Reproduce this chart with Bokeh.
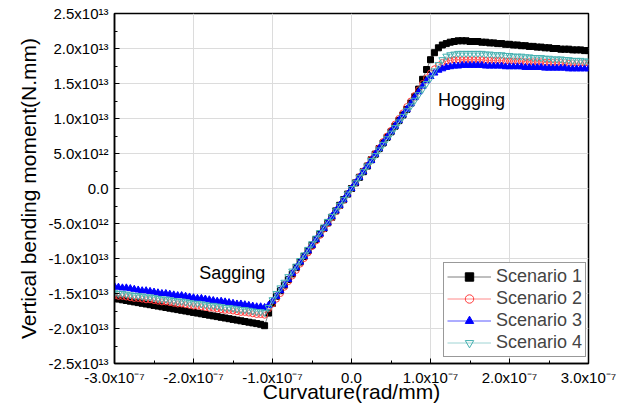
from bokeh.plotting import figure
from bokeh.models import Range1d, FixedTicker, Legend, LegendItem, Label
from bokeh.embed import file_html
from bokeh.resources import INLINE

# curvature in units of 1e-9 rad/mm
curvature = [-300, -295, -290, -285, -280, -275, -270, -265, -260, -255,
             -250, -245, -240, -235, -230, -225, -220, -215, -210, -205,
             -200, -195, -190, -185, -180, -175, -170, -165, -160, -155,
             -150, -145, -140, -135, -130, -125, -120, -115, -110, -105,
             -100, -95, -90, -85, -80, -75, -70, -65, -60, -55,
             -50, -45, -40, -35, -30, -25, -20, -15, -10, -5,
             0, 5, 10, 15, 20, 25, 30, 35, 40, 45,
             50, 55, 60, 65, 70, 75, 80, 85, 90, 95,
             100, 105, 110, 115, 120, 125, 130, 135, 140, 145,
             150, 155, 160, 165, 170, 175, 180, 185, 190, 195,
             200, 205, 210, 215, 220, 225, 230, 235, 240, 245,
             250, 255, 260, 265, 270, 275, 280, 285, 290, 295, 300]

# vertical bending moment in units of 1e11 N.mm
scenario1 = [-157, -158, -159, -160, -161, -162, -163, -164, -165, -166,
             -167, -168, -169, -170, -171, -172, -173, -174, -175, -176,
             -177, -178, -179, -180, -181, -182, -183, -184, -185, -186,
             -187, -188, -189, -190, -191, -192, -193, -194, -196,
             -178, -164,
             -154, -146, -138, -130, -122, -113, -105, -97, -89, -81,
             -73, -65, -57, -49, -41, -32, -24, -16, -8,
             0,
             8, 16, 24, 32, 41, 49, 57, 65, 73, 81,
             89, 97, 105, 113, 122, 131, 142, 156,
             170, 184, 194, 201, 205, 207, 209, 210, 211, 211, 211,
             210, 210, 210, 209, 209, 208, 208, 207, 207, 206,
             206, 205, 205, 204, 204, 203, 203, 202, 202, 201,
             201, 200, 200, 199, 199, 199, 198, 198, 198, 197, 197]

scenario2 = [-153, -154, -154, -155, -156, -157, -157, -158, -159, -159,
             -160, -161, -162, -162, -163, -164, -165, -165, -166, -167,
             -168, -168, -169, -170, -171, -171, -172, -173, -174, -174,
             -175, -176, -177, -177, -178, -179, -180, -180, -181,
             -172, -165,
             -158, -150, -141, -133, -125, -117, -108, -100, -92, -83,
             -75, -67, -58, -50, -42, -33, -25, -17, -8,
             0,
             8, 17, 25, 33, 42, 50, 58, 67, 75, 83,
             92, 100, 108, 117, 125, 133, 141, 150, 158,
             165, 171, 176, 180, 182, 183, 184, 184, 184, 184, 184, 184, 184,
             184, 183, 183, 183, 183, 183, 182, 182, 182, 182,
             182, 181, 181, 181, 181, 181, 180, 180, 180, 180,
             180, 180, 179, 179, 179, 179, 179, 179]

scenario3 = [-140, -141, -142, -142, -143, -144, -145, -146, -146, -147,
             -148, -149, -150, -150, -151, -152, -153, -153, -154, -155,
             -156, -157, -157, -158, -159, -160, -161, -161, -162, -163,
             -164, -165, -165, -166, -167, -168, -169, -169, -170,
             -167, -161,
             -154, -146, -138, -130, -121, -113, -105, -97, -89, -81,
             -73, -65, -57, -49, -40, -32, -24, -16, -8,
             0,
             8, 16, 24, 32, 40, 49, 57, 65, 73, 81,
             89, 97, 105, 113, 121, 130, 138, 146, 154,
             160, 165, 169, 171, 173, 174, 175, 175, 176, 176, 176, 176, 176,
             176, 175, 175, 175, 175, 175, 174, 174, 174, 174,
             174, 173, 173, 173, 173, 173, 172, 172, 172, 172,
             172, 172, 171, 171, 171, 171, 171, 171]

scenario4 = [-149, -150, -150, -151, -152, -153, -153, -154, -155, -155,
             -156, -157, -158, -158, -159, -160, -161, -161, -162, -163,
             -164, -164, -165, -166, -167, -167, -168, -169, -170, -170,
             -171, -172, -173, -173, -174, -175, -176, -176, -177,
             -170, -159,
             -150, -142, -134, -126, -118, -111, -103, -95, -87, -79,
             -71, -63, -55, -47, -40, -32, -24, -16, -8,
             0,
             8, 16, 24, 32, 40, 47, 55, 63, 71, 79,
             87, 95, 103, 111, 118, 126, 134, 142, 150,
             158, 168, 177, 184, 189, 191, 192, 193, 193, 193, 193, 193, 193,
             193, 192, 192, 191, 191, 191, 190, 190, 189, 189,
             189, 188, 188, 187, 187, 187, 186, 186, 185, 185,
             185, 184, 184, 183, 183, 183, 182, 182]

series_names = ["Scenario 1", "Scenario 2", "Scenario 3", "Scenario 4"]

x_ticks = [-300, -200, -100, 0, 100, 200, 300]
x_minor = [-250, -150, -50, 50, 150, 250]
x_tick_labels = ["-3.0x10\u207b\u2077", "-2.0x10\u207b\u2077", "-1.0x10\u207b\u2077", "0.0",
                 "1.0x10\u207b\u2077", "2.0x10\u207b\u2077", "3.0x10\u207b\u2077"]
y_ticks = [-250, -200, -150, -100, -50, 0, 50, 100, 150, 200, 250]
y_minor = [-225, -175, -125, -75, -25, 25, 75, 125, 175, 225]
y_tick_labels = ["-2.5x10\u00b9\u00b3", "-2.0x10\u00b9\u00b3", "-1.5x10\u00b9\u00b3", "-1.0x10\u00b9\u00b3",
                 "-5.0x10\u00b9\u00b2", "0.0", "5.0x10\u00b9\u00b2", "1.0x10\u00b9\u00b3",
                 "1.5x10\u00b9\u00b3", "2.0x10\u00b9\u00b3", "2.5x10\u00b9\u00b3"]

FONT = "Liberation Sans"

p = figure(width=621, height=412, x_range=Range1d(-300, 300), y_range=Range1d(-250, 250),
           output_backend="svg", toolbar_location=None,
           min_border_left=114, min_border_right=33, min_border_top=13, min_border_bottom=49)
p.background_fill_color = "white"
p.border_fill_color = "white"
p.outline_line_color = "black"
p.outline_line_width = 1.5

p.xaxis.ticker = FixedTicker(ticks=x_ticks, minor_ticks=x_minor)
p.yaxis.ticker = FixedTicker(ticks=y_ticks, minor_ticks=y_minor)
p.xaxis.major_label_overrides = dict(zip(x_ticks, x_tick_labels))
p.yaxis.major_label_overrides = dict(zip(y_ticks, y_tick_labels))

for ax in (p.xaxis[0], p.yaxis[0]):
    ax.axis_line_color = "black"
    ax.axis_line_width = 1.5
    ax.major_tick_in = 5
    ax.major_tick_out = 0
    ax.minor_tick_in = 3
    ax.minor_tick_out = 0
    ax.major_tick_line_color = "black"
    ax.minor_tick_line_color = "black"
    ax.major_label_text_font = FONT
    ax.major_label_text_font_size = "15px"
    ax.major_label_text_color = "black"
    ax.axis_label_text_font = FONT
    ax.axis_label_text_font_size = "21px"
    ax.axis_label_text_font_style = "normal"
    ax.axis_label_text_color = "black"

p.xaxis.axis_label = "Curvature(rad/mm)"
p.yaxis.axis_label = "Vertical bending moment(N.mm)"
p.xaxis.major_label_standoff = 5
p.xaxis.axis_label_standoff = -9
p.yaxis.major_label_standoff = 6
p.yaxis.axis_label_standoff = 5

p.xgrid.grid_line_color = "#dcdcdc"
p.ygrid.grid_line_color = "#dcdcdc"
p.xgrid.grid_line_width = 1
p.ygrid.grid_line_width = 1

series = [scenario1, scenario2, scenario3, scenario4]
line_colors = ["#7f7f7f", "#ff8a8a", "#5a5aff", "#9fd4d4"]
marker_types = ["square", "circle", "triangle", "inverted_triangle"]
marker_line = ["black", "#ff3b3b", "#0000ff", "#45b0b0"]
marker_fill = ["black", None, "#0000ff", None]
marker_size = [6, 6, 7, 7]

items = []
for name, ys, lc, mt, ml, mf, ms in zip(series_names, series, line_colors, marker_types,
                                         marker_line, marker_fill, marker_size):
    lr = p.line(curvature, ys, line_color=lc, line_width=1)
    sr = p.scatter(curvature, ys, marker=mt, size=ms, line_color=ml, fill_color=mf, line_width=1)
    items.append(LegendItem(label=name, renderers=[lr, sr]))

legend = Legend(items=items, location=(329, 6), margin=0, padding=3, spacing=1,
                glyph_width=44, glyph_height=21, label_height=21, label_standoff=5,
                label_text_font=FONT, label_text_font_size="18px",
                border_line_color="#333333", border_line_width=1,
                background_fill_color="white", background_fill_alpha=1)
p.add_layout(legend)

p.add_layout(Label(x=-151, y=-121, text="Sagging", text_align="center", text_baseline="middle",
                   text_font=FONT, text_font_size="18px", text_color="black"))
p.add_layout(Label(x=152, y=126, text="Hogging", text_align="center", text_baseline="middle",
                   text_font=FONT, text_font_size="18px", text_color="black"))

open("out.html", "w").write(file_html(p, INLINE))
